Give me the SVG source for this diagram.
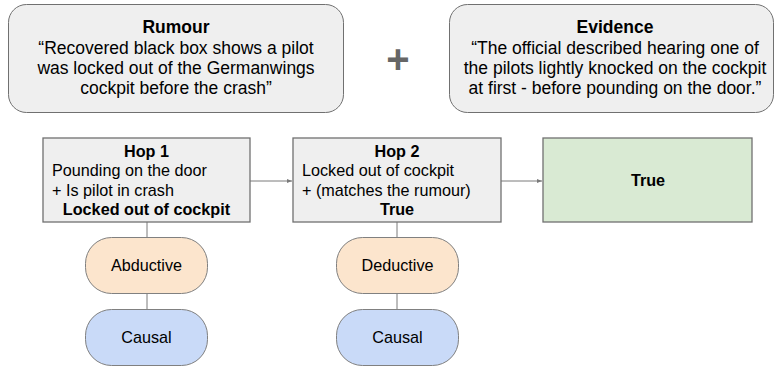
<svg xmlns="http://www.w3.org/2000/svg" width="779" height="368" viewBox="0 0 779 368">
<defs>
<style>
text{font-family:"Liberation Sans",Arial,sans-serif;fill:#000}
.big{font-size:17.5px}
.mid{font-size:16.2px}
.b{font-weight:bold}
.c{text-anchor:middle}
.card{fill:#efefef;stroke:#707070;stroke-width:1}
.box{fill:#efefef;stroke:#707070;stroke-width:1.3}
.pill{stroke:#808080;stroke-width:1}
.ln{stroke:#7a7a7a;stroke-width:1;fill:none}
</style>
<marker id="ah" markerWidth="6" markerHeight="6" refX="5" refY="3" orient="auto" markerUnits="userSpaceOnUse">
<path d="M0,1 L5,3 L0,5 Z" fill="#7a7a7a"/>
</marker>
</defs>
<rect width="779" height="368" fill="#fff"/>
<g id="connectors">
<line class="ln" x1="250" y1="181" x2="292" y2="181" marker-end="url(#ah)"/>
<line class="ln" x1="501" y1="181" x2="542" y2="181" marker-end="url(#ah)"/>
<line class="ln" x1="147" y1="222" x2="147" y2="237"/>
<line class="ln" x1="147" y1="294" x2="147" y2="309"/>
<line class="ln" x1="397" y1="222" x2="397" y2="237"/>
<line class="ln" x1="397" y1="294" x2="397" y2="309"/>
</g>
<g id="rumour">
<rect class="card" x="8.5" y="4.5" width="335" height="108" rx="18"/>
<text class="big b c" x="176" y="33">Rumour</text>
<text class="big c" x="176" y="54">“Recovered black box shows a pilot</text>
<text class="big c" x="176" y="74">was locked out of the Germanwings</text>
<text class="big c" x="176" y="94">cockpit before the crash”</text>
</g>
<g id="plus">
<text x="398" y="73" class="c b" style="font-size:40px;fill:#666">+</text>
</g>
<g id="evidence">
<rect class="card" x="449.5" y="4.5" width="324" height="108" rx="18"/>
<text class="big b c" x="615" y="33">Evidence</text>
<text class="big c" x="615" y="54">“The official described hearing one of</text>
<text class="big c" x="615" y="74">the pilots lightly knocked on the cockpit</text>
<text class="big c" x="615" y="94">at first - before pounding on the door.”</text>
</g>
<g id="hop1">
<rect class="box" x="43" y="138" width="207" height="84"/>
<text class="mid b c" x="146.5" y="157">Hop 1</text>
<text class="mid" x="52" y="176">Pounding on the door</text>
<text class="mid" x="52" y="196">+ Is pilot in crash</text>
<text class="mid b c" x="146.5" y="215">Locked out of cockpit</text>
</g>
<g id="hop2">
<rect class="box" x="293" y="138" width="208" height="84"/>
<text class="mid b c" x="397" y="157">Hop 2</text>
<text class="mid" x="302" y="176">Locked out of cockpit</text>
<text class="mid" x="302" y="196">+ (matches the rumour)</text>
<text class="mid b c" x="397" y="215">True</text>
</g>
<g id="true">
<rect class="box" x="543" y="138" width="209" height="84" style="fill:#d9ead3"/>
<text class="mid b c" x="648" y="186">True</text>
</g>
<g id="abductive">
<rect class="pill" x="85.5" y="237.5" width="122" height="56" rx="26" fill="#fce5cd"/>
<text class="mid c" x="146.5" y="271">Abductive</text>
</g>
<g id="causal1">
<rect class="pill" x="85.5" y="309.5" width="122" height="56" rx="26" fill="#c9daf8"/>
<text class="mid c" x="146.5" y="343">Causal</text>
</g>
<g id="deductive">
<rect class="pill" x="336.5" y="237.5" width="122" height="56" rx="26" fill="#fce5cd"/>
<text class="mid c" x="397.5" y="271">Deductive</text>
</g>
<g id="causal2">
<rect class="pill" x="336.5" y="309.5" width="122" height="56" rx="26" fill="#c9daf8"/>
<text class="mid c" x="397.5" y="343">Causal</text>
</g>
</svg>
